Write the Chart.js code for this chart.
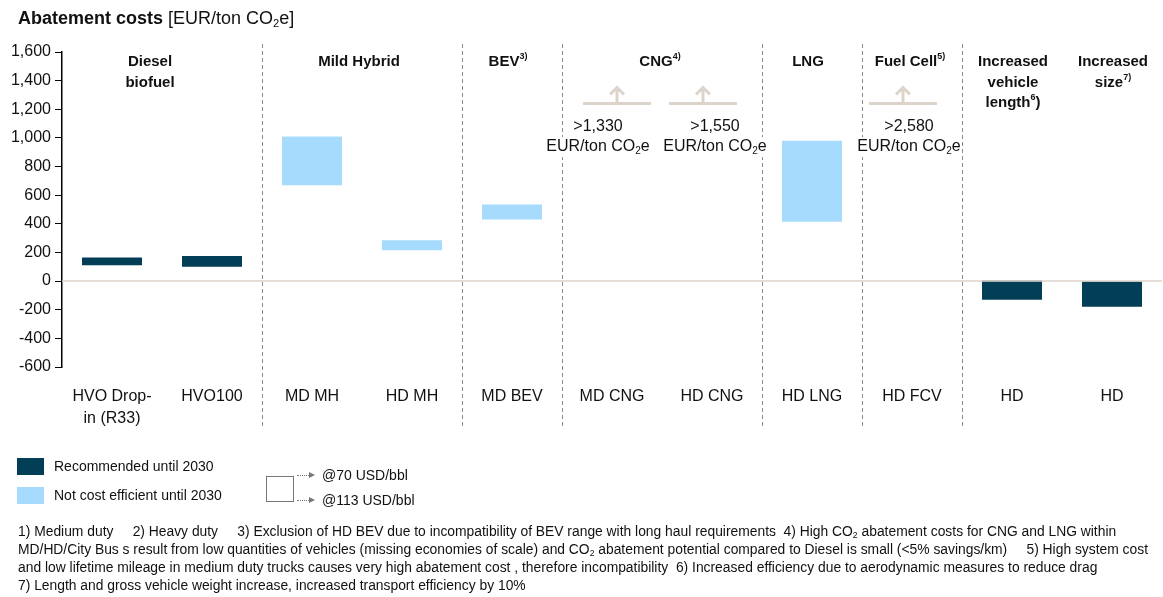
<!DOCTYPE html>
<html>
<head>
<meta charset="utf-8">
<script src="https://cdn.jsdelivr.net/npm/chart.js@4"></script>
<style>
  body { margin: 0; background: #fff; }
  #wrap { position: relative; width: 1163px; height: 597px; font-family: "Liberation Sans", Arial, sans-serif; color: #111; }
  #wrap canvas { position: absolute; left: 0; top: 0; }
  .abs { position: absolute; white-space: nowrap; }
  sub { font-size: 0.62em; vertical-align: -0.25em; line-height: 0; }
  #title { left: 18px; top: 8px; font-size: 18px; }
  .sw { position: absolute; width: 27px; height: 17px; }
  .lg { font-size: 14px; }
  .note { left: 18px; font-family: "Liberation Sans", Arial, sans-serif; font-size: 13.85px; line-height: 18px; }
</style>
</head>
<body>
<div id="wrap">
  <canvas id="abatementChart"></canvas>
  <div id="title" class="abs"><b>Abatement costs</b> [EUR/ton CO<sub>2</sub>e]</div>

  <div class="sw" style="left:17px;top:458px;background:#023f57"></div>
  <div class="abs lg" style="left:54px;top:458px">Recommended until 2030</div>
  <div class="sw" style="left:17px;top:487px;background:#a6dbfd"></div>
  <div class="abs lg" style="left:54px;top:487px">Not cost efficient until 2030</div>
  <div class="abs" style="left:266px;top:476px;width:26px;height:24px;border:1px solid #777"></div>
  <div class="abs" style="left:297px;top:475px;width:12px;border-top:1px dotted #777"></div>
  <div class="abs" style="left:309px;top:472px;width:0;height:0;border-left:6px solid #777;border-top:3px solid transparent;border-bottom:3px solid transparent"></div>
  <div class="abs" style="left:297px;top:500px;width:12px;border-top:1px dotted #777"></div>
  <div class="abs" style="left:309px;top:497px;width:0;height:0;border-left:6px solid #777;border-top:3px solid transparent;border-bottom:3px solid transparent"></div>
  <div class="abs lg" style="left:322px;top:467px">@70 USD/bbl</div>
  <div class="abs lg" style="left:322px;top:492px">@113 USD/bbl</div>

  <div class="abs note" style="top:522px">1) Medium duty&nbsp;&nbsp;&nbsp;&nbsp; 2) Heavy duty&nbsp;&nbsp;&nbsp;&nbsp; 3) Exclusion of HD BEV due to incompatibility of BEV range with long haul requirements&nbsp; 4) High CO<sub>2</sub> abatement costs for CNG and LNG within</div>
  <div class="abs note" style="top:540px">MD/HD/City Bus s result from low quantities of vehicles (missing economies of scale) and CO<sub>2</sub> abatement potential compared to Diesel is small (&lt;5% savings/km)&nbsp;&nbsp;&nbsp;&nbsp; 5) High system cost</div>
  <div class="abs note" style="top:558px">and low lifetime mileage in medium duty trucks causes very high abatement cost , therefore incompatibility&nbsp; 6) Increased efficiency due to aerodynamic measures to reduce drag</div>
  <div class="abs note" style="top:576px">7) Length and gross vehicle weight increase, increased transport efficiency by 10%</div>
</div>

<script>
// ==============================
// DATA
// ==============================
const categories = [["HVO Drop-", "in (R33)"], "HVO100", "MD MH", "HD MH", "MD BEV",
                    "MD CNG", "HD CNG", "HD LNG", "HD FCV", "HD", "HD"];

// floating bars: [low, high] EUR/ton CO2e
const recommended      = [[110, 165], [100, 175], null, null, null, null, null, null, null, [-130, 5], [-180, 0]];
const notCostEfficient = [null, null, [670, 1010], [215, 285], [430, 535], null, null, [415, 980], null, null, null];

// off-scale values (shown as arrow + text)
const offScaleCats   = [5, 6, 8];
const offScaleLabels = [">1,330", ">1,550", ">2,580"];

const yMin = -600, yMax = 1600, yStep = 200;

// group headers: category range, lines of [text, style]
const groups = [
    { from: 0, to: 1, dx: -12, lines: [[["Diesel", "b"]], [["biofuel", "b"]]] },
    { from: 2, to: 3, dx: -3,  lines: [[["Mild Hybrid", "b"]]] },
    { from: 4, to: 4, dx: -4,  lines: [[["BEV", "b"], ["3)", "s"]]] },
    { from: 5, to: 6, dx: -2,  lines: [[["CNG", "b"], ["4)", "s"]]] },
    { from: 7, to: 7, dx: -4,  lines: [[["LNG", "b"]]] },
    { from: 8, to: 8, dx: -2,  lines: [[["Fuel Cell", "b"], ["5)", "s"]]] },
    { from: 9, to: 9, dx: 1,   lines: [[["Increased", "b"]], [["vehicle", "b"]], [["length", "b"], ["6", "s"], [")", "b"]]] },
    { from: 10, to: 10, dx: 1, lines: [[["Increased", "b"]], [["size", "b"], ["7)", "s"]]] }
];
const separatorsAfter = [1, 3, 4, 6, 7, 8];

// ==============================
// COLORS / FONTS
// ==============================
const DARK = "#023f57";
const LIGHT = "#a6dbfd";
const BEIGE = "#dcd3cb";
const FONT = "'Liberation Sans', Arial, sans-serif";
const STYLES = {
    b: { font: "bold 15px " + FONT, dy: 0 },
    s: { font: "bold 9px " + FONT, dy: -5 },
    n: { font: "16px " + FONT, dy: 0 },
    sub: { font: "10px " + FONT, dy: 4 }
};

function drawRich(ctx, parts, x, y){
    let total = 0;
    parts.forEach(p => { ctx.font = STYLES[p[1]].font; total += ctx.measureText(p[0]).width; });
    let cx = x - total / 2;
    ctx.textAlign = "left";
    ctx.textBaseline = "middle";
    parts.forEach(p => {
        ctx.font = STYLES[p[1]].font;
        ctx.fillText(p[0], cx, y + STYLES[p[1]].dy);
        cx += ctx.measureText(p[0]).width;
    });
    return total;
}

// ==============================
// PLUGIN: separators, headers, zero line, off-scale arrows
// ==============================
const decorations = {
    id: "decorations",
    beforeDatasetsDraw(chart){
        const { ctx, scales: { x } } = chart;
        ctx.save();
        ctx.strokeStyle = "#8a8a8a";
        ctx.lineWidth = 1;
        ctx.setLineDash([4, 3]);
        separatorsAfter.forEach(i => {
            const px = Math.round((x.getPixelForValue(i) + x.getPixelForValue(i + 1)) / 2) + 0.5;
            ctx.beginPath();
            ctx.moveTo(px, 44);
            ctx.lineTo(px, 428);
            ctx.stroke();
        });
        ctx.restore();
    },
    afterDatasetsDraw(chart){
        const { ctx, chartArea, scales: { x, y } } = chart;
        ctx.save();

        // zero line
        const y0 = y.getPixelForValue(0);
        ctx.strokeStyle = BEIGE;
        ctx.lineWidth = 1.5;
        ctx.beginPath();
        ctx.moveTo(chartArea.left, y0);
        ctx.lineTo(chartArea.right, y0);
        ctx.stroke();

        // headers
        ctx.fillStyle = "#111";
        groups.forEach(g => {
            const cx = (x.getPixelForValue(g.from) + x.getPixelForValue(g.to)) / 2 + g.dx;
            g.lines.forEach((line, k) => drawRich(ctx, line, cx, 62 + k * 20.5));
        });

        // off-scale arrows + labels
        offScaleCats.forEach((ci, k) => {
            const cx = x.getPixelForValue(ci) + (k === 0 ? 5 : -9);
            const base = y.getPixelForValue(1240);
            const tip = y.getPixelForValue(1352);
            ctx.strokeStyle = BEIGE;
            ctx.lineWidth = 3;
            ctx.beginPath();
            ctx.moveTo(cx - 34, base); ctx.lineTo(cx + 34, base);
            ctx.moveTo(cx, base); ctx.lineTo(cx, tip);
            ctx.moveTo(cx - 7, tip + 7); ctx.lineTo(cx, tip); ctx.lineTo(cx + 7, tip + 7);
            ctx.stroke();

            const tx = x.getPixelForValue(ci) + (k === 0 ? -14 : (k === 1 ? 3 : -3));
            const t1 = y.getPixelForValue(1076), t2 = y.getPixelForValue(936);
            ctx.fillStyle = "#fff";
            ctx.fillRect(tx - 51, t2 - 10, 102, 20);
            ctx.fillStyle = "#111";
            drawRich(ctx, [[offScaleLabels[k], "n"]], tx, t1);
            drawRich(ctx, [["EUR/ton CO", "n"], ["2", "sub"], ["e", "n"]], tx, t2);
        });
        ctx.restore();
    }
};

// ==============================
// CHART
// ==============================
const ctx = document.getElementById("abatementChart").getContext("2d");

new Chart(ctx, {
    type: "bar",
    data: {
        labels: categories,
        datasets: [
            { label: "Recommended until 2030", data: recommended, backgroundColor: DARK },
            { label: "Not cost efficient until 2030", data: notCostEfficient, backgroundColor: LIGHT }
        ]
    },
    options: {
        responsive: true,
        maintainAspectRatio: false,
        animation: false,
        grouped: false,
        barPercentage: 0.6,
        categoryPercentage: 1,
        borderWidth: 0,
        layout: { padding: { top: 52, left: 0, right: 1, bottom: 0 } },
        plugins: { legend: { display: false }, tooltip: { enabled: false } },
        scales: {
            x: {
                grid: { display: false, drawTicks: false },
                border: { display: false },
                ticks: {
                    autoSkip: false, maxRotation: 0, padding: 18, color: "#111",
                    font: { family: FONT, size: 16, lineHeight: 1.4 }
                },
                afterFit(scale){ scale.height = 230; }
            },
            y: {
                min: yMin, max: yMax,
                grid: { drawOnChartArea: false, drawTicks: true, tickLength: 7, color: "#000" },
                border: { display: true, color: "#000", width: 1.5 },
                ticks: {
                    stepSize: yStep, padding: 4, color: "#111",
                    font: { family: FONT, size: 16 },
                    callback: v => v.toLocaleString("en-US")
                },
                afterFit(scale){ scale.width = 62; }
            }
        }
    },
    plugins: [decorations]
});
</script>
</body>
</html>
